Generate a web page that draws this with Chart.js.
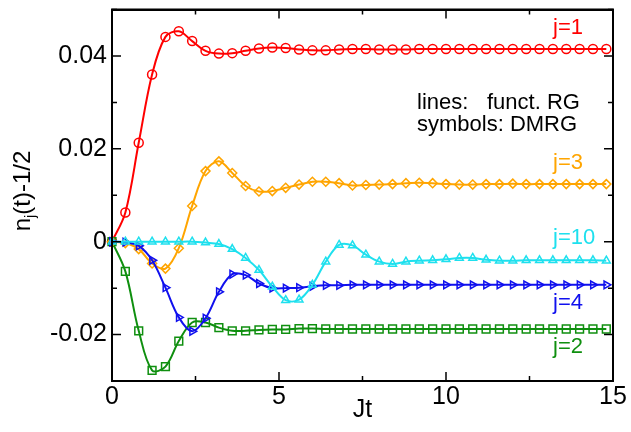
<!DOCTYPE html>
<html lang="en">
<head>
  <meta charset="UTF-8" />
  <title>n_j(t)-1/2 vs Jt</title>
  <script src="https://cdn.jsdelivr.net/npm/chart.js"></script>
  <style>
    body { margin: 0; background: #fff; }
    canvas { display: block; }
  </style>
</head>
<body>
  <canvas id="nChart" width="631" height="432"></canvas>

  <script>
    // 1) Dati (letti dal grafico)
    const times = [0, 0.4, 0.8, 1.2, 1.6, 2.0, 2.4, 2.8, 3.2, 3.6, 4.0, 4.4, 4.8, 5.2, 5.6, 6.0, 6.4, 6.8, 7.2,
                   7.6, 8.0, 8.4, 8.8, 9.2, 9.6, 10.0, 10.4, 10.8, 11.2, 11.6, 12.0, 12.4, 12.8, 13.2, 13.6, 14.0, 14.4, 14.8];

    const j1 = [0, 0.0063, 0.0213, 0.0360, 0.0441, 0.0453, 0.0432, 0.0411, 0.0405, 0.0406, 0.0411, 0.0416, 0.0418, 0.0417, 0.0414, 0.0412, 0.0412, 0.0414, 0.0415,
                0.0415, 0.0414, 0.0414, 0.0414, 0.0415, 0.0415, 0.0415, 0.0415, 0.0415, 0.0415, 0.0415, 0.0415, 0.0415, 0.0415, 0.0415, 0.0415, 0.0415, 0.0415, 0.0415];
    const j2 = [0, -0.0064, -0.0192, -0.0277, -0.0269, -0.0214, -0.0174, -0.0174, -0.0185, -0.0192, -0.0192, -0.0190, -0.0189, -0.0189, -0.0187, -0.0187, -0.0188, -0.0188, -0.0188,
                -0.0188, -0.0188, -0.0188, -0.0188, -0.0188, -0.0188, -0.0188, -0.0188, -0.0188, -0.0188, -0.0188, -0.0188, -0.0188, -0.0188, -0.0188, -0.0188, -0.0188, -0.0188, -0.0188];
    const j3 = [0, -0.0003, -0.0016, -0.0047, -0.0058, -0.0014, 0.0077, 0.0152, 0.0173, 0.0148, 0.0120, 0.0108, 0.0109, 0.0116, 0.0123, 0.0129, 0.0129, 0.0126, 0.0121,
                0.0122, 0.0123, 0.0124, 0.0126, 0.0127, 0.0126, 0.0124, 0.0123, 0.0123, 0.0124, 0.0124, 0.0125, 0.0124, 0.0124, 0.0124, 0.0124, 0.0124, 0.0124, 0.0124];
    const j4 = [0, -0.0001, -0.0009, -0.0040, -0.0099, -0.0163, -0.0193, -0.0165, -0.0108, -0.0070, -0.0072, -0.0090, -0.0100, -0.0100, -0.0099, -0.0096, -0.0094, -0.0094, -0.0093,
                -0.0093, -0.0093, -0.0093, -0.0093, -0.0093, -0.0093, -0.0093, -0.0093, -0.0093, -0.0093, -0.0093, -0.0093, -0.0093, -0.0093, -0.0093, -0.0093, -0.0093, -0.0093, -0.0093];
    const j10 = [0, 0, 0, 0, 0, 0, 0, -0.0002, -0.0005, -0.0016, -0.0035, -0.0061, -0.0097, -0.0126, -0.0125, -0.0093, -0.0043, -0.0007, -0.0008,
                 -0.0028, -0.0043, -0.0048, -0.0043, -0.0041, -0.0040, -0.0038, -0.0035, -0.0035, -0.0039, -0.0041, -0.0041, -0.0040, -0.0040, -0.0040, -0.0040, -0.0040, -0.0040, -0.0041];

    const xTicks = [0, 2.5, 5, 7.5, 10, 12.5, 15];
    const yTicks = [-0.03, -0.02, -0.01, 0, 0.01, 0.02, 0.03, 0.04, 0.05];

    const FONT = "'Liberation Sans', Arial, sans-serif";
    const RED = '#ff0000', GREEN = '#0f8f0f', ORANGE = '#ffa500', BLUE = '#1010ee', CYAN = '#1ee0ee';

    // 2) Serie
    function serie(vals, color, style, rot, order) {
      return {
        data: times.map((t, i) => ({ x: t, y: vals[i] })),
        borderColor: color,
        backgroundColor: 'rgba(0,0,0,0)',
        borderWidth: 2,
        pointStyle: style,
        pointRotation: rot,
        pointRadius: style === 'rect' ? 5.5 : 4.5,
        pointBorderWidth: 1.5,
        pointBorderColor: color,
        pointBackgroundColor: 'rgba(0,0,0,0)',
        tension: 0.35,
        clip: false,
        order: order
      };
    }

    // 3) Cornice, tacche interne, testi
    const decor = {
      id: 'decor',
      afterDraw(chart) {
        const ctx = chart.ctx;
        const a = chart.chartArea;
        const xs = chart.scales.x, ys = chart.scales.y;
        const L = a.left, R = a.right, T = a.top, B = a.bottom;
        ctx.save();
        ctx.setLineDash([]);
        ctx.globalAlpha = 1;
        ctx.strokeStyle = '#000000';

        // tacche
        ctx.lineWidth = 1.5;
        ctx.beginPath();
        xTicks.forEach(v => {
          const px = xs.getPixelForValue(v);
          const len = v % 5 === 0 ? 9 : 5;
          ctx.moveTo(px, B); ctx.lineTo(px, B - len);
          ctx.moveTo(px, T); ctx.lineTo(px, T + len);
        });
        yTicks.forEach(v => {
          const py = ys.getPixelForValue(v);
          const len = Math.round(v * 100) % 2 === 0 ? 9 : 5;
          ctx.moveTo(L, py); ctx.lineTo(L + len, py);
          ctx.moveTo(R, py); ctx.lineTo(R - len, py);
        });
        ctx.stroke();

        // cornice
        ctx.lineWidth = 2;
        ctx.lineCap = 'square';
        ctx.beginPath();
        ctx.moveTo(L, T); ctx.lineTo(R, T);
        ctx.lineTo(R, B); ctx.lineTo(L, B);
        ctx.closePath();
        ctx.stroke();

        // etichette serie
        ctx.textBaseline = 'middle';
        ctx.textAlign = 'left';
        ctx.font = '22px ' + FONT;
        const lab = [['j=1', RED, 28], ['j=3', ORANGE, 163], ['j=10', CYAN, 238],
                     ['j=4', BLUE, 303], ['j=2', GREEN, 347]];
        lab.forEach(([t, c, yy]) => { ctx.fillStyle = c; ctx.fillText(t, 553, yy); });

        ctx.fillStyle = '#000';
        ctx.fillText('lines:', 417, 103);
        ctx.fillText('funct. RG', 487, 103);
        ctx.fillText('symbols: DMRG', 417, 125);

        // titolo asse x
        ctx.textAlign = 'center';
        ctx.font = '25px ' + FONT;
        ctx.fillText('Jt', (L + R) / 2, 410);

        // titolo asse y con pedice
        ctx.translate(23, 191);
        ctx.rotate(-Math.PI / 2);
        ctx.textAlign = 'left';
        const big = '24px ' + FONT, small = '15px ' + FONT;
        ctx.font = big; const w1 = ctx.measureText('n').width;
        ctx.font = small; const w2 = ctx.measureText('j').width;
        ctx.font = big; const w3 = ctx.measureText('(t)-1/2').width;
        let sx = -(w1 + w2 + w3) / 2;
        ctx.fillText('n', sx, 0); sx += w1;
        ctx.font = small; ctx.fillText('j', sx, 8); sx += w2;
        ctx.font = big; ctx.fillText('(t)-1/2', sx, 0);
        ctx.restore();
      }
    };

    const frameBorder = { display: true, color: '#000', width: 2 };

    // 4) Chart.js
    const ctx = document.getElementById('nChart').getContext('2d');
    new Chart(ctx, {
      type: 'line',
      data: {
        datasets: [
          serie(j1, RED, 'circle', 0, 5),
          serie(j2, GREEN, 'rect', 0, 4),
          serie(j3, ORANGE, 'rectRot', 0, 3),
          serie(j4, BLUE, 'triangle', 90, 2),
          serie(j10, CYAN, 'triangle', 0, 1)
        ]
      },
      options: {
        responsive: false,
        animation: false,
        devicePixelRatio: 1,
        layout: { padding: { left: 0, right: 18, top: 9.5, bottom: 0 } },
        plugins: { legend: { display: false }, tooltip: { enabled: false } },
        scales: {
          x: {
            type: 'linear', min: 0, max: 15,
            grid: { display: false, drawTicks: false }, border: frameBorder,
            ticks: {
              stepSize: 2.5, autoSkip: false, maxRotation: 0, padding: 1,
              color: '#000', font: { family: FONT, size: 25 },
              callback: v => (v % 5 === 0 ? String(v) : '')
            },
            afterFit: s => { s.height = 51; s.paddingLeft = 0; s.paddingRight = 0; }
          },
          x2: {
            type: 'linear', position: 'top', min: 0, max: 15,
            grid: { display: false, drawTicks: false }, border: frameBorder,
            ticks: { display: false },
            afterFit: s => { s.height = 0; s.paddingLeft = 0; s.paddingRight = 0; }
          },
          y: {
            min: -0.03, max: 0.05,
            grid: { display: false, drawTicks: false }, border: frameBorder,
            ticks: {
              stepSize: 0.01, autoSkip: false, padding: 5,
              color: '#000', font: { family: FONT, size: 25 },
              callback: v => {
                const k = Math.round(v * 100);
                if (k % 2 !== 0 || k > 4 || k < -2) return '';
                return k === 0 ? '0' : (k / 100).toFixed(2);
              }
            },
            afterFit: s => { s.width = 112; s.paddingTop = 0; s.paddingBottom = 0; }
          },
          y2: {
            position: 'right', min: -0.03, max: 0.05,
            grid: { display: false, drawTicks: false }, border: frameBorder,
            ticks: { display: false },
            afterFit: s => { s.width = 0; s.paddingTop = 0; s.paddingBottom = 0; }
          }
        }
      },
      plugins: [decor]
    });
  </script>
</body>
</html>
